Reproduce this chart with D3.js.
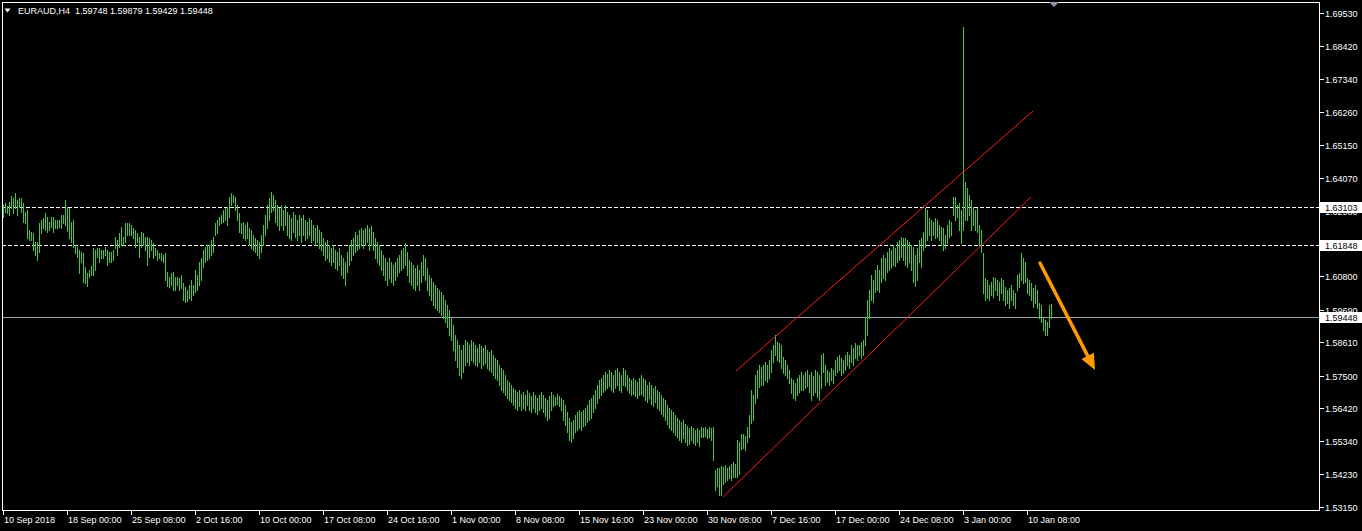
<!DOCTYPE html>
<html><head><meta charset="utf-8">
<script src="https://cdn.jsdelivr.net/npm/d3@7/dist/d3.min.js"></script>
<style>html,body{margin:0;padding:0;background:#000;overflow:hidden}</style>
</head><body><svg id="c" width="1362" height="531"></svg>
<script>
const symbolTitle = "EURAUD,H4";
const lastOHLC = ["1.59748", "1.59879", "1.59429", "1.59448"];

const barHighs = [
1.6316,1.6323,1.6313,1.6326,1.6346,1.6340,1.6356,1.6333,1.6340,1.6340,
1.6323,1.6293,1.6300,1.6233,1.6227,1.6223,1.6194,1.6194,1.6257,1.6267,
1.6273,1.6290,1.6277,1.6260,1.6277,1.6277,1.6267,1.6267,1.6267,1.6283,
1.6283,1.6333,1.6310,1.6306,1.6260,1.6267,1.6184,1.6177,1.6167,1.6161,
1.6157,1.6111,1.6091,1.6101,1.6114,1.6174,1.6167,1.6174,1.6174,1.6167,
1.6167,1.6177,1.6167,1.6161,1.6161,1.6167,1.6210,1.6200,1.6223,1.6243,
1.6210,1.6257,1.6257,1.6257,1.6250,1.6240,1.6233,1.6223,1.6210,1.6227,
1.6223,1.6210,1.6210,1.6207,1.6200,1.6190,1.6174,1.6167,1.6157,1.6157,
1.6151,1.6157,1.6094,1.6078,1.6091,1.6094,1.6078,1.6078,1.6074,1.6084,
1.6058,1.6044,1.6034,1.6051,1.6068,1.6051,1.6101,1.6084,1.6127,1.6141,
1.6167,1.6177,1.6184,1.6184,1.6200,1.6210,1.6257,1.6267,1.6277,1.6283,
1.6300,1.6306,1.6310,1.6343,1.6356,1.6349,1.6343,1.6316,1.6290,1.6257,
1.6260,1.6250,1.6260,1.6240,1.6233,1.6217,1.6207,1.6200,1.6194,1.6217,
1.6250,1.6283,1.6316,1.6340,1.6360,1.6349,1.6333,1.6316,1.6306,1.6316,
1.6300,1.6316,1.6293,1.6283,1.6273,1.6293,1.6283,1.6267,1.6283,1.6273,
1.6283,1.6267,1.6260,1.6273,1.6267,1.6250,1.6240,1.6250,1.6233,1.6227,
1.6207,1.6194,1.6200,1.6184,1.6174,1.6184,1.6167,1.6161,1.6174,1.6151,
1.6141,1.6127,1.6161,1.6184,1.6200,1.6207,1.6227,1.6217,1.6233,1.6240,
1.6233,1.6240,1.6250,1.6240,1.6247,1.6227,1.6207,1.6194,1.6184,1.6167,
1.6151,1.6141,1.6127,1.6141,1.6127,1.6117,1.6127,1.6141,1.6151,1.6167,
1.6174,1.6190,1.6161,1.6134,1.6127,1.6117,1.6107,1.6117,1.6101,1.6127,
1.6151,1.6141,1.6107,1.6084,1.6074,1.6061,1.6051,1.6041,1.6034,1.6028,
1.6018,1.6001,1.5985,1.5968,1.5942,1.5918,1.5885,1.5869,1.5852,1.5836,
1.5852,1.5869,1.5862,1.5852,1.5869,1.5862,1.5852,1.5842,1.5856,1.5849,
1.5842,1.5852,1.5836,1.5829,1.5836,1.5819,1.5809,1.5802,1.5786,1.5776,
1.5769,1.5753,1.5736,1.5729,1.5719,1.5709,1.5703,1.5696,1.5703,1.5690,
1.5696,1.5686,1.5703,1.5693,1.5683,1.5696,1.5686,1.5676,1.5686,1.5696,
1.5686,1.5676,1.5670,1.5683,1.5696,1.5686,1.5680,1.5690,1.5683,1.5676,
1.5670,1.5653,1.5630,1.5610,1.5597,1.5603,1.5620,1.5630,1.5637,1.5630,
1.5637,1.5643,1.5653,1.5670,1.5676,1.5686,1.5703,1.5719,1.5736,1.5743,
1.5753,1.5763,1.5756,1.5769,1.5763,1.5753,1.5769,1.5776,1.5763,1.5753,
1.5776,1.5769,1.5753,1.5743,1.5736,1.5743,1.5736,1.5729,1.5743,1.5753,
1.5743,1.5736,1.5719,1.5729,1.5719,1.5709,1.5716,1.5703,1.5696,1.5686,
1.5676,1.5670,1.5653,1.5643,1.5637,1.5630,1.5620,1.5610,1.5603,1.5597,
1.5603,1.5590,1.5584,1.5577,1.5584,1.5577,1.5570,1.5577,1.5570,1.5580,
1.5577,1.5580,1.5574,1.5580,1.5577,1.5580,1.5438,1.5445,1.5445,1.5451,
1.5448,1.5454,1.5445,1.5451,1.5458,1.5464,1.5458,1.5537,1.5530,1.5557,
1.5557,1.5550,1.5580,1.5620,1.5703,1.5686,1.5753,1.5769,1.5786,1.5779,
1.5786,1.5796,1.5786,1.5802,1.5836,1.5852,1.5885,1.5862,1.5859,1.5852,
1.5812,1.5802,1.5786,1.5769,1.5743,1.5736,1.5726,1.5743,1.5753,1.5763,
1.5753,1.5763,1.5769,1.5753,1.5763,1.5749,1.5769,1.5763,1.5753,1.5819,
1.5826,1.5786,1.5769,1.5763,1.5776,1.5769,1.5802,1.5812,1.5819,1.5809,
1.5802,1.5819,1.5829,1.5819,1.5852,1.5842,1.5859,1.5852,1.5852,1.5862,
1.5869,1.5942,1.6001,1.6034,1.6084,1.6068,1.6101,1.6117,1.6101,1.6141,
1.6151,1.6141,1.6161,1.6174,1.6167,1.6184,1.6174,1.6194,1.6200,1.6210,
1.6207,1.6207,1.6200,1.6194,1.6184,1.6177,1.6151,1.6174,1.6200,1.6207,
1.6227,1.6306,1.6300,1.6273,1.6267,1.6260,1.6273,1.6267,1.6250,1.6243,
1.6240,1.6217,1.6250,1.6267,1.6260,1.6343,1.6343,1.6316,1.6323,1.6300,
1.6907,1.6393,1.6373,1.6349,1.6333,1.6310,1.6300,1.6306,1.6250,1.6233,
1.6157,1.6074,1.6068,1.6051,1.6061,1.6078,1.6074,1.6068,1.6061,1.6074,
1.6068,1.6044,1.6034,1.6041,1.6051,1.6034,1.6025,1.6084,1.6091,1.6157,
1.6141,1.6127,1.6074,1.6068,1.6058,1.6041,1.6051,1.6034,1.5991,1.5985,
1.5942,1.5935,1.5928,1.5985,1.5988
];
const barLows = [
1.6277,1.6293,1.6290,1.6283,1.6306,1.6290,1.6306,1.6283,1.6310,1.6293,
1.6260,1.6257,1.6207,1.6200,1.6200,1.6167,1.6151,1.6134,1.6161,1.6223,
1.6240,1.6233,1.6227,1.6233,1.6243,1.6227,1.6240,1.6240,1.6243,1.6240,
1.6257,1.6250,1.6230,1.6207,1.6194,1.6177,1.6157,1.6144,1.6091,1.6127,
1.6061,1.6058,1.6048,1.6078,1.6084,1.6084,1.6101,1.6144,1.6127,1.6141,
1.6141,1.6151,1.6117,1.6127,1.6127,1.6134,1.6174,1.6151,1.6177,1.6184,
1.6184,1.6194,1.6217,1.6217,1.6217,1.6207,1.6177,1.6194,1.6144,1.6177,
1.6184,1.6167,1.6117,1.6144,1.6167,1.6141,1.6151,1.6134,1.6141,1.6134,
1.6127,1.6068,1.6048,1.6044,1.6051,1.6034,1.6034,1.6051,1.6034,1.6041,
1.6001,1.5995,1.5998,1.6008,1.6001,1.6018,1.6028,1.6034,1.6051,1.6068,
1.6111,1.6127,1.6134,1.6141,1.6151,1.6161,1.6217,1.6223,1.6250,1.6257,
1.6260,1.6267,1.6250,1.6277,1.6316,1.6326,1.6300,1.6267,1.6227,1.6223,
1.6207,1.6200,1.6207,1.6184,1.6174,1.6167,1.6161,1.6151,1.6141,1.6161,
1.6184,1.6217,1.6240,1.6267,1.6293,1.6300,1.6260,1.6250,1.6233,1.6250,
1.6233,1.6250,1.6217,1.6207,1.6200,1.6227,1.6210,1.6200,1.6217,1.6194,
1.6217,1.6200,1.6207,1.6217,1.6194,1.6200,1.6184,1.6194,1.6174,1.6167,
1.6151,1.6134,1.6141,1.6127,1.6117,1.6127,1.6107,1.6101,1.6117,1.6084,
1.6074,1.6051,1.6094,1.6117,1.6134,1.6151,1.6161,1.6167,1.6174,1.6184,
1.6174,1.6184,1.6194,1.6167,1.6184,1.6167,1.6141,1.6127,1.6117,1.6101,
1.6084,1.6068,1.6051,1.6074,1.6061,1.6051,1.6068,1.6081,1.6094,1.6101,
1.6107,1.6117,1.6084,1.6061,1.6051,1.6041,1.6034,1.6051,1.6034,1.6061,
1.6084,1.6068,1.6034,1.6018,1.6001,1.5985,1.5975,1.5968,1.5962,1.5952,
1.5942,1.5928,1.5912,1.5885,1.5869,1.5836,1.5802,1.5779,1.5753,1.5743,
1.5763,1.5786,1.5796,1.5786,1.5802,1.5796,1.5786,1.5782,1.5796,1.5776,
1.5786,1.5792,1.5776,1.5769,1.5763,1.5753,1.5743,1.5736,1.5719,1.5703,
1.5696,1.5686,1.5676,1.5670,1.5663,1.5653,1.5643,1.5637,1.5650,1.5637,
1.5643,1.5637,1.5653,1.5637,1.5630,1.5643,1.5630,1.5623,1.5637,1.5643,
1.5630,1.5617,1.5603,1.5610,1.5637,1.5650,1.5653,1.5657,1.5650,1.5637,
1.5603,1.5587,1.5564,1.5537,1.5530,1.5544,1.5564,1.5570,1.5577,1.5570,
1.5584,1.5587,1.5597,1.5603,1.5610,1.5630,1.5643,1.5660,1.5676,1.5686,
1.5696,1.5703,1.5709,1.5716,1.5703,1.5696,1.5709,1.5719,1.5703,1.5696,
1.5719,1.5716,1.5703,1.5693,1.5686,1.5690,1.5683,1.5676,1.5686,1.5690,
1.5683,1.5670,1.5663,1.5676,1.5657,1.5650,1.5663,1.5643,1.5637,1.5623,
1.5617,1.5603,1.5590,1.5577,1.5570,1.5564,1.5554,1.5547,1.5537,1.5530,
1.5544,1.5530,1.5520,1.5524,1.5537,1.5527,1.5520,1.5530,1.5517,1.5547,
1.5547,1.5550,1.5544,1.5547,1.5537,1.5471,1.5371,1.5385,1.5355,1.5355,
1.5392,1.5398,1.5405,1.5411,1.5405,1.5415,1.5415,1.5415,1.5425,1.5508,
1.5511,1.5504,1.5530,1.5547,1.5593,1.5603,1.5660,1.5676,1.5713,1.5719,
1.5719,1.5736,1.5729,1.5743,1.5763,1.5796,1.5819,1.5802,1.5796,1.5776,
1.5759,1.5753,1.5743,1.5726,1.5693,1.5676,1.5670,1.5686,1.5696,1.5703,
1.5703,1.5709,1.5716,1.5696,1.5670,1.5686,1.5696,1.5680,1.5670,1.5709,
1.5763,1.5719,1.5729,1.5719,1.5736,1.5726,1.5753,1.5763,1.5769,1.5753,
1.5759,1.5769,1.5786,1.5776,1.5796,1.5786,1.5809,1.5802,1.5819,1.5809,
1.5819,1.5852,1.5885,1.5942,1.6001,1.5995,1.6028,1.6034,1.6028,1.6061,
1.6074,1.6068,1.6094,1.6101,1.6107,1.6117,1.6114,1.6127,1.6134,1.6144,
1.6134,1.6117,1.6111,1.6127,1.6101,1.6061,1.6048,1.6068,1.6127,1.6111,
1.6167,1.6177,1.6200,1.6217,1.6200,1.6217,1.6207,1.6210,1.6200,1.6184,
1.6167,1.6174,1.6190,1.6210,1.6217,1.6283,1.6267,1.6277,1.6233,1.6190,
1.6233,1.6267,1.6267,1.6283,1.6233,1.6250,1.6233,1.6227,1.6184,1.6161,
1.6025,1.6001,1.6008,1.6001,1.6018,1.6011,1.6034,1.6018,1.6001,1.6025,
1.6001,1.5985,1.5991,1.5975,1.6001,1.5985,1.5975,1.6034,1.6044,1.6068,
1.6058,1.6061,1.6025,1.6018,1.6001,1.5978,1.5991,1.5975,1.5942,1.5928,
1.5902,1.5885,1.5885,1.5912,1.5943
];

const timeTickBars = [0,32,64,96,128,160,192,224,256,288,320,352,384,416,448,480,512];
const timeTickLabels = ["10 Sep 2018","18 Sep 00:00","25 Sep 08:00","2 Oct 16:00","10 Oct 00:00",
  "17 Oct 08:00","24 Oct 16:00","1 Nov 00:00","8 Nov 08:00","15 Nov 16:00","23 Nov 00:00",
  "30 Nov 08:00","7 Dec 16:00","17 Dec 00:00","24 Dec 08:00","3 Jan 00:00","10 Jan 08:00"];

const priceTicks = [1.69530,1.68420,1.67340,1.66260,1.65150,1.64070,1.62980,1.61900,
  1.60800,1.59690,1.58610,1.57500,1.56420,1.55340,1.54230,1.53150];

const dashedLevels = [1.63103, 1.61848];
const bidLevel = 1.59448;

// trend lines: [barIndex, price] anchors
const channelUpper = [[366.5, 1.5766], [515, 1.6628]];
const channelLower = [[360, 1.5348], [514, 1.6343]];
const arrowPath = [[518.5, 1.6124], [546, 1.5769]];

// ---------- drawing ----------
const W = 1362, H = 531;
const svg = d3.select("#c");
const FONT = "'Liberation Sans', Arial, sans-serif";
svg.append("rect").attr("width", W).attr("height", H).attr("fill", "#000");

const x = d3.scaleLinear().domain([0, barHighs.length - 1]).range([3, 1051]);
const y = d3.scaleLinear().domain([1.5315, 1.6953]).range([507, 13]);

const plotL = 2, plotR = 1319, plotT = 2, plotB = 510;

const clip = svg.append("clipPath").attr("id", "pc").append("rect")
  .attr("x", plotL + 1).attr("y", plotT + 1).attr("width", plotR - plotL - 1).attr("height", plotB - plotT - 1);
const plot = svg.append("g").attr("clip-path", "url(#pc)");

// horizontal level lines
plot.selectAll("line.lvl").data(dashedLevels).join("line")
  .attr("x1", plotL).attr("x2", plotR)
  .attr("y1", d => Math.round(y(d)) + 0.5).attr("y2", d => Math.round(y(d)) + 0.5)
  .attr("stroke", "#fff").attr("stroke-width", 1).attr("stroke-dasharray", "4,2")
  .attr("shape-rendering", "crispEdges");
plot.append("line")
  .attr("x1", plotL).attr("x2", plotR)
  .attr("y1", Math.round(y(bidLevel)) + 0.5).attr("y2", Math.round(y(bidLevel)) + 0.5)
  .attr("stroke", "#9aa4b2").attr("stroke-width", 1).attr("shape-rendering", "crispEdges");

// bars (high-low)
const bars = barHighs.map((h, i) => ({i, h, l: barLows[i]}));
plot.selectAll("rect.bar").data(bars).join("rect")
  .attr("x", d => Math.round(x(d.i)))
  .attr("y", d => Math.round(y(d.h)))
  .attr("width", 1)
  .attr("height", d => Math.max(1, Math.round(y(d.l)) - Math.round(y(d.h)) + 1))
  .attr("fill", "#35d035").attr("shape-rendering", "crispEdges");

// channel lines
[channelUpper, channelLower].forEach(seg => {
  plot.append("line")
    .attr("x1", x(seg[0][0])).attr("y1", y(seg[0][1]))
    .attr("x2", x(seg[1][0])).attr("y2", y(seg[1][1]))
    .attr("stroke", "#ff1a1a").attr("stroke-width", 1);
});

// orange arrow
{
  const x1 = x(arrowPath[0][0]), y1 = y(arrowPath[0][1]);
  const x2 = x(arrowPath[1][0]), y2 = y(arrowPath[1][1]);
  const ang = Math.atan2(y2 - y1, x2 - x1);
  const headLen = 16, headW = 7;
  const bx = x2 - headLen * Math.cos(ang), by = y2 - headLen * Math.sin(ang);
  plot.append("line").attr("x1", x1).attr("y1", y1).attr("x2", bx).attr("y2", by)
    .attr("stroke", "#ff9a00").attr("stroke-width", 3.5).attr("stroke-linecap", "round");
  const px = -Math.sin(ang), py = Math.cos(ang);
  plot.append("polygon")
    .attr("points", [[x2, y2], [bx + px * headW, by + py * headW], [bx - px * headW, by - py * headW]].map(p => p.join(",")).join(" "))
    .attr("fill", "#ff9a00");
}

// frame
svg.append("path")
  .attr("d", `M${plotL + 0.5},${plotT + 0.5}H${plotR + 0.5}V${plotB + 0.5}H${plotL + 0.5}Z`)
  .attr("fill", "none").attr("stroke", "#fff").attr("stroke-width", 1).attr("shape-rendering", "crispEdges");

// right price axis
const ra = svg.append("g");
ra.selectAll("line").data(priceTicks).join("line")
  .attr("x1", plotR + 1).attr("x2", plotR + 5)
  .attr("y1", d => Math.round(y(d)) + 0.5).attr("y2", d => Math.round(y(d)) + 0.5)
  .attr("stroke", "#fff").attr("shape-rendering", "crispEdges");
ra.selectAll("text").data(priceTicks).join("text")
  .attr("x", plotR + 6).attr("y", d => Math.round(y(d)) + 0.5)
  .attr("dy", "0.35em")
  .attr("fill", "#fff").attr("font-family", FONT).attr("font-size", "9px")
  .text(d => d3.format(".5f")(d));

// highlighted level labels
const boxLevels = dashedLevels.concat([bidLevel]);
const bl = svg.append("g");
bl.selectAll("rect").data(boxLevels).join("rect")
  .attr("x", plotR + 1).attr("y", d => Math.round(y(d)) - 5)
  .attr("width", W - plotR - 1).attr("height", 11)
  .attr("fill", "#fff").attr("shape-rendering", "crispEdges");
bl.selectAll("text").data(boxLevels).join("text")
  .attr("x", plotR + 6).attr("y", d => Math.round(y(d)) + 0.5)
  .attr("dy", "0.35em")
  .attr("fill", "#000").attr("font-family", FONT).attr("font-size", "9px")
  .text(d => d3.format(".5f")(d));

// bottom time axis
const ba = svg.append("g");
ba.selectAll("line").data(timeTickBars).join("line")
  .attr("x1", d => Math.round(x(d)) + 0.5).attr("x2", d => Math.round(x(d)) + 0.5)
  .attr("y1", plotB + 1).attr("y2", plotB + 5)
  .attr("stroke", "#fff").attr("shape-rendering", "crispEdges");
ba.selectAll("text").data(timeTickBars).join("text")
  .attr("x", d => Math.round(x(d)) + 1).attr("y", 523)
  .attr("fill", "#fff").attr("font-family", FONT).attr("font-size", "9px")
  .text((d, i) => timeTickLabels[i]);

// title
svg.append("path").attr("d", "M4.5,8.5L10.5,8.5L7.5,12.5Z").attr("fill", "#fff");
svg.append("text").attr("x", 18).attr("y", 14)
  .attr("fill", "#fff").attr("font-family", FONT).attr("font-size", "9px")
  .attr("xml:space", "preserve").style("white-space", "pre")
  .text(symbolTitle + "  " + lastOHLC.join(" "));

// shift marker
svg.append("path").attr("d", "M1049,2L1059,2L1054,7Z").attr("fill", "#8a96a6");
</script></body></html>
